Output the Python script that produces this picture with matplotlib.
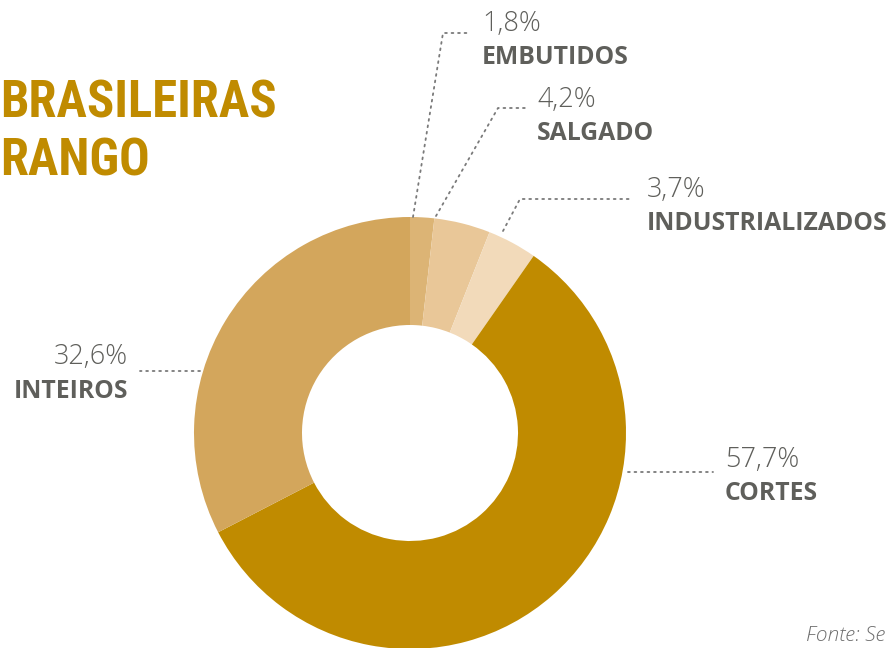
import matplotlib.pyplot as plt
from matplotlib import font_manager

# dados
categorias = ["EMBUTIDOS", "SALGADO", "INDUSTRIALIZADOS", "CORTES", "INTEIROS"]
valores = [1.8, 4.2, 3.7, 57.7, 32.6]
rotulos = ["1,8%", "4,2%", "3,7%", "57,7%", "32,6%"]
cores = ["#DCB475", "#E9C798", "#F2DABA", "#C08B00", "#D3A65C"]

W, H = 893, 648
fig = plt.figure(figsize=(W / 100, H / 100), dpi=100)
ax = fig.add_axes([0, 0, 1, 1])

def Y(y):
    return H - y

cx, cy, r = 410, 433, 216
ax.pie(valores, colors=cores, startangle=90, counterclock=False,
       center=(cx, Y(cy)), radius=r, frame=True,
       wedgeprops=dict(width=r - 108, linewidth=0))
ax.set_xlim(0, W)
ax.set_ylim(0, H)
ax.axis("off")

# linhas guia (x, y em pixels da imagem) e posicao do texto
guias = [
    ([413, 443, 470], [217, 33, 33], 482, 24, "left"),
    ([436, 498, 525], [216, 108, 108], 537, 100, "left"),
    ([503, 520, 633], [231, 199, 199], 647, 190, "left"),
    ([628, 713], [472, 472], 725, 460, "left"),
    ([200, 140], [371, 371], 128, 357, "right"),
]

cinza = "#5F5F5B"
fonte = ["Open Sans", "DejaVu Sans"]
for (xs, ys, tx, ty, ha), cat, rot in zip(guias, categorias, rotulos):
    ax.plot(xs, [Y(v) for v in ys], color="#7A7A7A", lw=1.3,
            dashes=(1, 2.6), solid_capstyle="round", dash_capstyle="round")
    ax.text(tx, Y(ty), rot, ha=ha, va="center", fontsize=19.5,
            color=cinza, family=fonte, fontweight="light")
    ax.text(tx, Y(ty + 34), cat, ha=ha, va="center", fontsize=17.8,
            color=cinza, family=fonte, fontweight="bold")

# titulo (cortado na imagem original) - fonte estreita se houver
nomes = {f.name for f in font_manager.fontManager.ttflist}
estreita, tam = "Roboto", 34
for nome in ["Roboto Condensed", "Open Sans Condensed", "Liberation Sans Narrow",
             "Noto Sans Condensed", "DejaVu Sans Condensed"]:
    if nome in nomes:
        estreita, tam = nome, 36.5
        break
ouro = "#C08B00"
ax.text(0, Y(104), "BRASILEIRAS", ha="left", va="center", fontsize=tam,
        color=ouro, family=estreita, fontweight="bold")
ax.text(0, Y(162), "RANGO", ha="left", va="center", fontsize=tam,
        color=ouro, family=estreita, fontweight="bold")

ax.text(806, Y(636), "Fonte: Se", ha="left", va="center", fontsize=15,
        color="#6E6E6E", family=fonte, style="italic", fontweight="light")

fig.savefig("out.png", dpi=100, facecolor="white")
